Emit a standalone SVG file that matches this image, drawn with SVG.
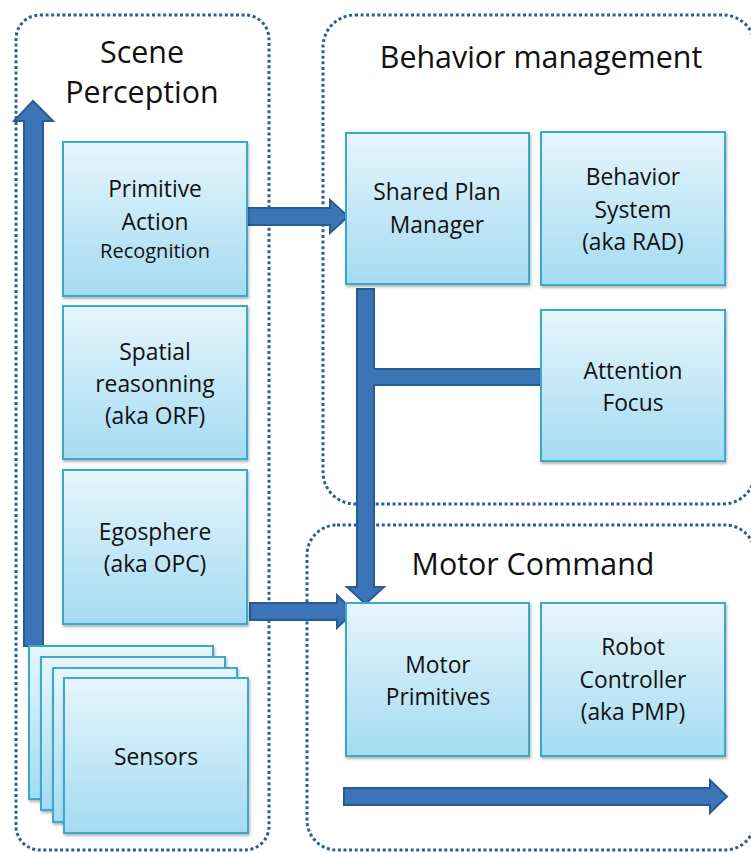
<svg xmlns="http://www.w3.org/2000/svg" width="751" height="853" viewBox="0 0 751 853">
<style>
.cont{fill:none;stroke:#2d5e93;stroke-width:3;stroke-dasharray:3 2.6}
.box{fill:url(#g);stroke:#3aa9c9;stroke-width:2;filter:url(#sh)}
.arr{fill:#3c74b8;stroke:#2a5a90;stroke-width:2;stroke-linejoin:miter}
text{font-family:"Open Sans",Lato,"Liberation Sans",sans-serif;fill:#111;text-anchor:middle}
.t{font-size:22.8px}
.s{font-size:20px}
.h{font-size:30.4px}
</style>
<defs>
<linearGradient id="g" x1="0" y1="0" x2="0" y2="1">
<stop offset="0" stop-color="#e6f5fc"/>
<stop offset="1" stop-color="#a4dbf2"/>
</linearGradient>
<filter id="sh" x="-10%" y="-10%" width="125%" height="125%">
<feDropShadow dx="1" dy="2" stdDeviation="1.5" flood-color="#000" flood-opacity="0.3"/>
</filter>
</defs>
<rect width="751" height="853" fill="#fff"/>
<g id="containers">
<rect class="cont" x="16" y="15" width="253" height="835" rx="24"/>
<rect class="cont" x="323" y="15" width="432" height="489" rx="32"/>
<rect class="cont" x="307" y="525" width="448" height="325" rx="30"/>
</g>
<g id="titles">
<text class="h" x="142" y="63">Scene</text>
<text class="h" x="142" y="103">Perception</text>
<text class="h" x="541" y="68">Behavior management</text>
<text class="h" x="533" y="575">Motor Command</text>
</g>
<g id="connectors">
<polygon class="arr" points="24,646 24,121 14,121 33,101 53,121 43,121 43,646"/>
<polygon class="arr" points="247,208 330,208 330,200 348,216.5 330,233 330,225 247,225"/>
<polygon class="arr" points="250,603 337,603 337,595 354,611.5 337,628 337,620 250,620"/>
<polygon class="arr" points="357,289 374,289 374,369 541,369 541,385 374,385 374,587 384,587 365.5,604 347,587 357,587"/>
<polygon class="arr" points="344,788 710,788 710,780 727,796.5 710,813 710,805 344,805"/>
</g>
<g id="par">
<rect class="box" x="63" y="142" width="184" height="154"/>
<text class="t" x="155" y="197">Primitive</text>
<text class="t" x="155" y="230">Action</text>
<text class="s" x="155" y="258">Recognition</text>
</g>
<g id="spatial">
<rect class="box" x="63" y="306" width="184" height="153"/>
<text class="t" x="155" y="360">Spatial</text>
<text class="t" x="155" y="392">reasonning</text>
<text class="t" x="155" y="424">(aka ORF)</text>
</g>
<g id="egosphere">
<rect class="box" x="63" y="470" width="184" height="154"/>
<text class="t" x="155" y="540">Egosphere</text>
<text class="t" x="155" y="572">(aka OPC)</text>
</g>
<g id="sensors">
<rect class="box" x="29" y="646" width="184" height="153"/>
<rect class="box" x="41" y="657" width="184" height="153"/>
<rect class="box" x="53" y="668" width="184" height="154"/>
<rect class="box" x="64" y="678" width="184" height="155"/>
<text class="t" x="156" y="765">Sensors</text>
</g>
<g id="spm">
<rect class="box" x="346" y="133" width="183" height="151"/>
<text class="t" x="437" y="200">Shared Plan</text>
<text class="t" x="437" y="233">Manager</text>
</g>
<g id="bsys">
<rect class="box" x="541" y="132" width="184" height="153"/>
<text class="t" x="633" y="185">Behavior</text>
<text class="t" x="633" y="218">System</text>
<text class="t" x="633" y="250">(aka RAD)</text>
</g>
<g id="attention">
<rect class="box" x="541" y="310" width="184" height="151"/>
<text class="t" x="633" y="379">Attention</text>
<text class="t" x="633" y="411">Focus</text>
</g>
<g id="motorprim">
<rect class="box" x="346" y="603" width="183" height="153"/>
<text class="t" x="438" y="673">Motor</text>
<text class="t" x="438" y="705">Primitives</text>
</g>
<g id="robot">
<rect class="box" x="541" y="603" width="184" height="153"/>
<text class="t" x="633" y="655">Robot</text>
<text class="t" x="633" y="688">Controller</text>
<text class="t" x="633" y="720">(aka PMP)</text>
</g>
</svg>
